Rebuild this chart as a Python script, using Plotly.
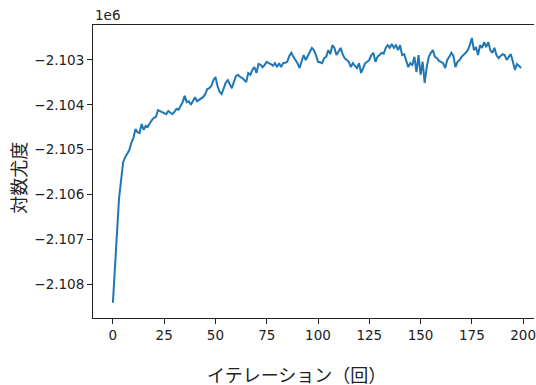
import plotly.graph_objects as go

iterations = list(range(200))
log_likelihood = [
    -2108420, -2107580, -2106680, -2106080, -2105680, -2105280, -2105170, -2105080, -2105010, -2104850,
    -2104740, -2104540, -2104610, -2104630, -2104430, -2104560, -2104470, -2104490, -2104410, -2104340,
    -2104290, -2104270, -2104120, -2104140, -2104160, -2104180, -2104210, -2104140, -2104180, -2104210,
    -2104160, -2104090, -2104110, -2104030, -2103940, -2103800, -2103940, -2103920, -2104000, -2103920,
    -2103830, -2103920, -2103890, -2103870, -2103830, -2103760, -2103650, -2103630, -2103580, -2103450,
    -2103380, -2103580, -2103710, -2103760, -2103630, -2103510, -2103450, -2103540, -2103630, -2103490,
    -2103360, -2103330, -2103380, -2103400, -2103450, -2103490, -2103290, -2103330, -2103220, -2103160,
    -2103290, -2103090, -2103110, -2103160, -2103110, -2103040, -2103070, -2103090, -2103130, -2103070,
    -2103160, -2103070, -2103160, -2103070, -2103060, -2103040, -2102910, -2102840, -2102930, -2103000,
    -2103070, -2103180, -2103040, -2102890, -2103000, -2102890, -2102820, -2102730, -2102780, -2102890,
    -2103040, -2103050, -2103070, -2102960, -2102930, -2102780, -2102870, -2102670, -2102730, -2102890,
    -2102820, -2102730, -2102870, -2102960, -2103000, -2103040, -2103160, -2103070, -2103130, -2103180,
    -2103070, -2103290, -2103180, -2103070, -2103040, -2103000, -2102890, -2102840, -2103040, -2102930,
    -2102890, -2102840, -2102860, -2102730, -2102670, -2102730, -2102640, -2102730, -2102670, -2102780,
    -2102670, -2102890, -2102870, -2103000, -2103160, -2103070, -2103110, -2102930, -2103270, -2102890,
    -2103330, -2103040, -2103510, -2103160, -2102930, -2102840, -2102780, -2102930, -2102960, -2103020,
    -2103040, -2103070, -2103180, -2103000, -2102930, -2102840, -2102910, -2103160, -2103040, -2103000,
    -2102930, -2102890, -2102840, -2102780, -2102670, -2102510, -2102780, -2102710, -2102890, -2102670,
    -2102730, -2102600, -2102710, -2102600, -2102780, -2102840, -2102730, -2102890, -2102960, -2102910,
    -2102870, -2102890, -2103000, -2102930, -2102870, -2103040, -2103220, -2103090, -2103130, -2103180,
]

x_ticks = [0, 25, 50, 75, 100, 125, 150, 175, 200]
y_ticks = [-2108000, -2107000, -2106000, -2105000, -2104000, -2103000]
y_tick_labels = ["\u22122.108", "\u22122.107", "\u22122.106", "\u22122.105", "\u22122.104", "\u22122.103"]
x_title = "イテレーション（回）"
y_title = "対数尤度"
offset_label = "1e6"

tick_font = dict(family="DejaVu Sans", size=13.5, color="#222222")
cjk_font = dict(family="Noto Sans CJK JP", size=18, color="#222222")

fig = go.Figure()
fig.add_trace(go.Scatter(
    x=iterations, y=log_likelihood, mode="lines",
    line=dict(color="#1f77b4", width=2), showlegend=False,
))

fig.update_layout(
    width=536, height=385,
    margin=dict(l=93, r=0, t=25, b=67),
    paper_bgcolor="white", plot_bgcolor="white",
    xaxis=dict(
        range=[-9.7, 205.3], tickvals=x_ticks, showgrid=False, zeroline=False,
        showline=True, linecolor="#222222", linewidth=1, mirror=True,
        ticks="outside", ticklen=5, tickcolor="#222222", tickfont=tick_font,
        ticklabeloverflow="allow",
    ),
    yaxis=dict(
        range=[-2108759, -2102219], tickvals=y_ticks, ticktext=y_tick_labels,
        showgrid=False, zeroline=False,
        showline=True, linecolor="#222222", linewidth=1, mirror=False,
        ticks="outside", ticklen=5, tickcolor="#222222", tickfont=tick_font,
    ),
    annotations=[
        dict(text=offset_label, xref="paper", yref="paper", x=0, y=1, xanchor="left",
             yanchor="bottom", showarrow=False, font=tick_font),
        dict(text=x_title, xref="paper", yref="paper", x=0.4605, y=-0.19,
             xanchor="center", yanchor="middle", showarrow=False, font=cjk_font),
        dict(text=y_title, xref="paper", yref="paper", x=-0.169, y=0.48,
             xanchor="center", yanchor="middle", textangle=-90, showarrow=False, font=cjk_font),
    ],
)

fig.write_html(
    "out.html",
    config={"displayModeBar": False},
    post_script="document.body.style.margin='0';document.body.style.overflow='hidden';",
)
